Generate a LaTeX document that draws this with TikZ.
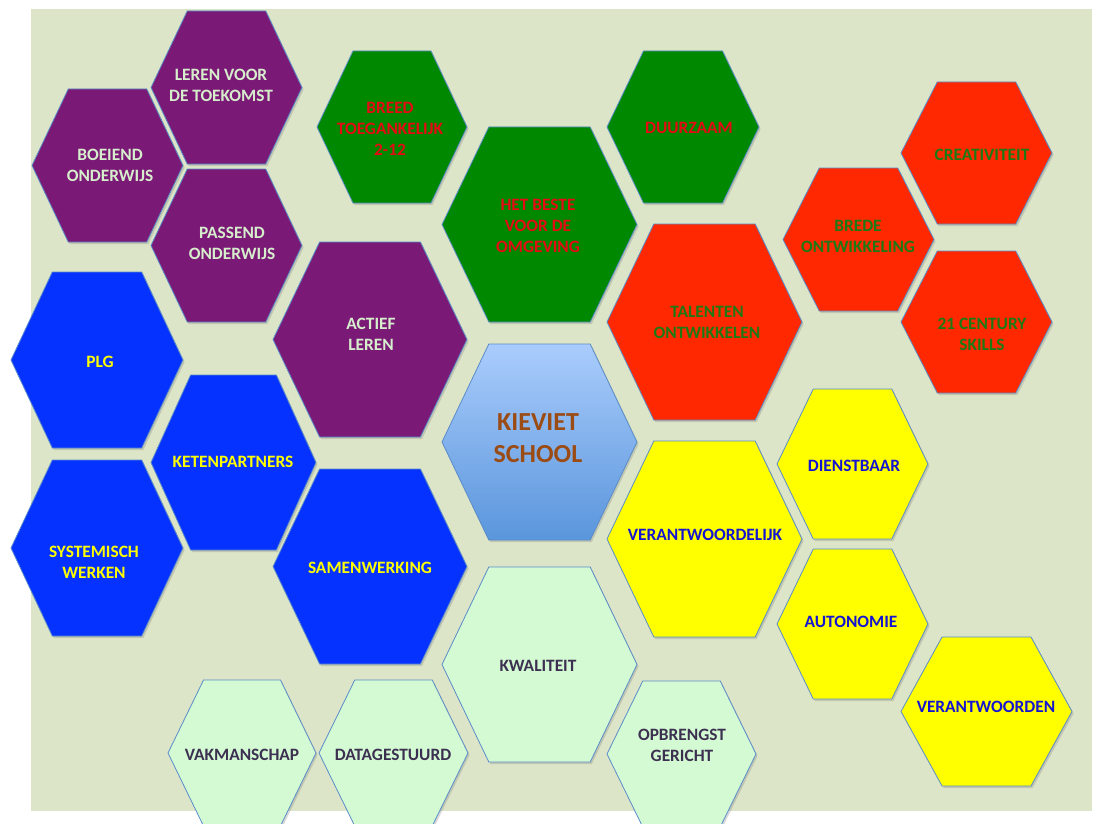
\documentclass[tikz,border=0pt]{standalone}
\usepackage{fontspec}
\setmainfont{Carlito}
\usepackage{tikz}
\usetikzlibrary{shadows}
\definecolor{bgveld}{HTML}{DDE5C8}
\definecolor{hexrand}{HTML}{5A8CC8}
\definecolor{paars}{HTML}{7A1A76}
\definecolor{groen}{HTML}{008800}
\definecolor{rood}{HTML}{FF2800}
\definecolor{geel}{HTML}{FFFF00}
\definecolor{blauw}{HTML}{0532FF}
\definecolor{mint}{HTML}{D4FAD4}
\definecolor{kvtop}{HTML}{AACCFC}
\definecolor{kvbottom}{HTML}{5A96DC}
\definecolor{tpaars}{HTML}{D7EECD}
\definecolor{tgroen}{HTML}{E60A14}
\definecolor{trood}{HTML}{1E7814}
\definecolor{tgeel}{HTML}{1414D2}
\definecolor{tblauw}{HTML}{FFFF00}
\definecolor{tmint}{HTML}{3C3050}
\definecolor{tkv}{HTML}{9B4B14}
\tikzset{
  hexa/.style={draw=hexrand,line width=0.6pt,line join=miter,
    drop shadow={shadow xshift=1.2pt,shadow yshift=-1.5pt,opacity=0.3}},
  hextext/.style={align=center,inner sep=0pt,font=\bfseries\fontsize{13}{15.75}\selectfont}
}
% #1 name, #2 x, #3 y, #4 half width, #5 half height, #6 fill, #7 text colour, #8 text position, #9 text
\newcommand{\hexcell}[9]{%
  \draw[hexa,#6] (#2-#4,#3) -- (#2-0.52*#4,#3-#5) -- (#2+0.52*#4,#3-#5) -- (#2+#4,#3)
    -- (#2+0.52*#4,#3+#5) -- (#2-0.52*#4,#3+#5) -- cycle;
  \node[hextext,text=#7] (#1) at #8 {#9};}

\begin{document}
\begin{tikzpicture}[line cap=round,x=0.75pt,y=-0.75pt]
\useasboundingbox (0,0) rectangle (1093,824);
\clip (0,0) rectangle (1093,824);
\fill[bgveld] (31,9) rectangle (1092,811);
% paars
\hexcell{leren}{226.5}{87.5}{75.5}{76.5}{fill=paars}{tpaars}{(221,85)}{LEREN VOOR\\DE TOEKOMST}
\hexcell{boeiend}{107.5}{165.5}{75.5}{76.5}{fill=paars}{tpaars}{(110,165)}{BOEIEND\\ONDERWIJS}
\hexcell{passend}{226.5}{245.5}{75.5}{76.5}{fill=paars}{tpaars}{(232,243)}{PASSEND\\ONDERWIJS}
\hexcell{actief}{370}{339.5}{97}{97.5}{fill=paars}{tpaars}{(371,334)}{ACTIEF\\LEREN}
% groen
\hexcell{breed}{392}{127}{75}{76}{fill=groen}{tgroen}{(390,129)}{BREED\\TOEGANKELIJK\\2-12}
\hexcell{beste}{539.5}{224.5}{97.5}{97.5}{fill=groen}{tgroen}{(538,226)}{HET BESTE\\VOOR DE\\OMGEVING}
\hexcell{duurzaam}{683}{127}{76}{76}{fill=groen}{tgroen}{(689,128)}{DUURZAAM}
% rood
\hexcell{talenten}{704.5}{322}{97.5}{98}{fill=rood}{trood}{(707,322)}{TALENTEN\\ONTWIKKELEN}
\hexcell{brede}{858.5}{239.5}{75.5}{71.5}{fill=rood}{trood}{(858,236)}{BREDE\\ONTWIKKELING}
\hexcell{creativiteit}{976.5}{153}{75.5}{71}{fill=rood}{trood}{(982,155)}{CREATIVITEIT}
\hexcell{century}{976.5}{322}{75.5}{71}{fill=rood}{trood}{(982,334)}{21 CENTURY\\SKILLS}
% geel
\hexcell{verantwoordelijk}{704.5}{539}{97.5}{98}{fill=geel}{tgeel}{(705,535)}{VERANTWOORDELIJK}
\hexcell{dienstbaar}{852.5}{464}{75.5}{75}{fill=geel}{tgeel}{(854,466)}{DIENSTBAAR}
\hexcell{autonomie}{852.5}{624}{75.5}{75}{fill=geel}{tgeel}{(851,622)}{AUTONOMIE}
\hexcell{verantwoorden}{986.5}{711.5}{85.5}{74.5}{fill=geel}{tgeel}{(986,707)}{VERANTWOORDEN}
% mint
\hexcell{kwaliteit}{539.5}{664.5}{97.5}{97.5}{fill=mint}{tmint}{(538,666)}{KWALITEIT}
\hexcell{opbrengst}{681.5}{754}{74.5}{73}{fill=mint}{tmint}{(682,745)}{OPBRENGST\\GERICHT}
\hexcell{vakmanschap}{242}{753}{74}{73}{fill=mint}{tmint}{(242,755)}{VAKMANSCHAP}
\hexcell{datagestuurd}{393.5}{753}{74.5}{73}{fill=mint}{tmint}{(393,755)}{DATAGESTUURD}
% blauw
\hexcell{plg}{97}{360}{86}{88}{fill=blauw}{tblauw}{(100,362)}{PLG}
\hexcell{systemisch}{97}{548}{86}{88}{fill=blauw}{tblauw}{(94,562)}{SYSTEMISCH\\WERKEN}
\hexcell{ketenpartners}{233.5}{462.5}{82.5}{87.5}{fill=blauw}{tblauw}{(233,462)}{KETENPARTNERS}
\hexcell{samenwerking}{370}{566.5}{97}{97.5}{fill=blauw}{tblauw}{(370,568)}{SAMENWERKING}
% midden
\hexcell{kieviet}{539.5}{442}{97.5}{98}{top color=kvtop,bottom color=kvbottom}{tkv}{(538,438)}{\fontsize{19.5}{24}\selectfont KIEVIET\\[8pt]\fontsize{19.5}{24}\selectfont SCHOOL}
\end{tikzpicture}
\end{document}
